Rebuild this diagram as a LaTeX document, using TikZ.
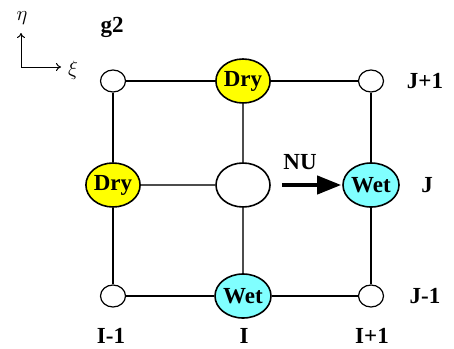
\documentclass[tikz,border=0pt]{standalone}
\usepackage{amsmath}
\usepackage{fontspec}
\setmainfont{Liberation Serif}
\usetikzlibrary{arrows.meta,positioning,shapes.geometric}

\definecolor{dryyellow}{RGB}{255,255,0}
\definecolor{wetcyan}{RGB}{128,255,255}

\begin{document}
\begin{tikzpicture}[x=1pt, y=-1pt,
    every node/.style={font=\fontsize{23}{26}\selectfont\bfseries},
    pt/.style={ellipse, draw, line width=1.2pt, fill=white,
      minimum width=25pt, minimum height=22pt, inner sep=0pt},
    big/.style={ellipse, draw, line width=1.6pt, fill=white,
      minimum width=54pt, minimum height=44pt, inner sep=0pt},
    dry/.style={big, fill=dryyellow},
    wet/.style={big, fill=wetcyan},
    outer/.style={line width=2pt},
    inner/.style={line width=1.2pt, gray!60!black},
    lbl/.style={inner sep=0pt}]
  \useasboundingbox (0,0) rectangle (454,348);

  % axes
  \coordinate (o) at (21,67);
  \coordinate (eup) at (21,33);
  \coordinate (eright) at (61,67);
  \draw[line width=1pt, -{To[length=5pt,width=8pt]}] (o) -- (eup);
  \draw[line width=1pt, -{To[length=5pt,width=8pt]}] (o) -- (eright);
  \node[lbl, font=\fontsize{22}{24}\selectfont] (eta) at (22,18) {$\eta$};
  \node[lbl, font=\fontsize{22}{24}\selectfont] (xi) at (73,70) {$\xi$};
  \node[lbl] (g2) at (112,27) {g2};

  % grid points
  \node[pt]  (a1) at (113,81)  {};
  \node[dry] (a2) at (243,81)  {Dry};
  \node[pt]  (a3) at (371,81)  {};
  \node[dry] (b1) at (113,185) {Dry};
  \node[big] (b2) at (243,185) {};
  \node[wet] (b3) at (371,185) {Wet};
  \node[pt]  (c1) at (113,296) {};
  \node[wet] (c2) at (243,296) {Wet};
  \node[pt]  (c3) at (371,296) {};

  % connections
  \draw[outer] (a1) -- (a2) -- (a3);
  \draw[outer] (c1) -- (c2) -- (c3);
  \draw[outer] (a1) -- (b1) -- (c1);
  \draw[outer] (a3) -- (b3) -- (c3);
  \draw[inner] (a2) -- (b2) -- (c2);
  \draw[inner] (b1) -- (b2);
  \draw[line width=4pt, shorten <=11pt, shorten >=1pt,
    -{Triangle[length=24pt,width=18pt]}] (b2) -- (b3);
  \node[lbl] (nu) at (300,162) {NU};

  % indices
  \node[lbl] (jp) at (425,81)  {J+1};
  \node[lbl] (j)  at (427,185) {J};
  \node[lbl] (jm) at (425,296) {J-1};
  \node[lbl] (im) at (111,336) {I-1};
  \node[lbl] (i)  at (244,336) {I};
  \node[lbl] (ip) at (372,336) {I+1};
\end{tikzpicture}
\end{document}
